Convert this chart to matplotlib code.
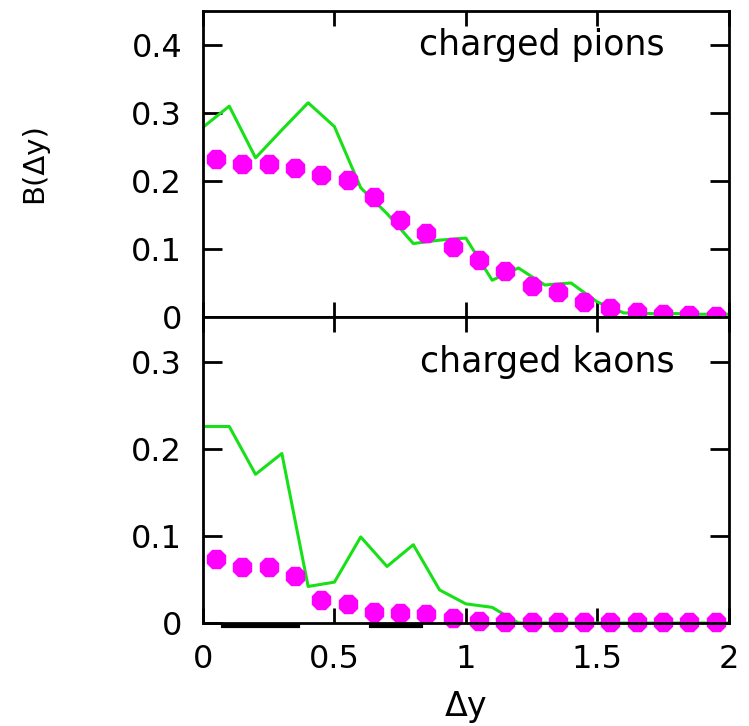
import numpy as np
import matplotlib
matplotlib.use("Agg")
import matplotlib.pyplot as plt
from matplotlib.ticker import FuncFormatter

# model curve (green), sampled every 0.1 in dy
dy_line = [0.0, 0.1, 0.2, 0.3, 0.4, 0.5, 0.6, 0.7, 0.8, 0.9, 1.0,
           1.1, 1.2, 1.3, 1.4, 1.5, 1.6, 1.7, 1.8, 1.9, 2.0]
pions_line = [0.279, 0.310, 0.234, 0.275, 0.315, 0.280, 0.190, 0.152, 0.108, 0.113, 0.116,
              0.054, 0.072, 0.047, 0.050, 0.022, 0.006, 0.005, 0.005, 0.004, 0.004]
kaons_line = [0.226, 0.226, 0.171, 0.195, 0.042, 0.047, 0.099, 0.065, 0.090, 0.038, 0.022,
              0.018, 0.0, 0.0, 0.0, 0.0, 0.0, 0.0, 0.0, 0.0, 0.0]

# data points (magenta), bin centres
dy_pts = [0.05, 0.15, 0.25, 0.35, 0.45, 0.55, 0.65, 0.75, 0.85, 0.95,
          1.05, 1.15, 1.25, 1.35, 1.45, 1.55, 1.65, 1.75, 1.85, 1.95]
pions_pts = [0.233, 0.225, 0.225, 0.219, 0.209, 0.202, 0.176, 0.143, 0.124, 0.103,
             0.084, 0.067, 0.045, 0.036, 0.022, 0.013, 0.008, 0.005, 0.003, 0.002]
kaons_pts = [0.074, 0.064, 0.064, 0.054, 0.027, 0.022, 0.013, 0.011, 0.010, 0.006,
             0.002, 0.001, 0.001, 0.001, 0.001, 0.001, 0.001, 0.001, 0.001, 0.001]

# black segments just under the kaon axis
black_x = [0.075, 0.36, np.nan, 0.64, 0.83]
black_y = [-0.003, -0.003, np.nan, -0.003, -0.003]

green = "#18e018"
magenta = "#ff00ff"
fs = 23

fig = plt.figure(figsize=(7.49, 7.26), dpi=100)
ax1 = fig.add_axes([0.271, 0.5634, 0.702, 0.4215])
ax2 = fig.add_axes([0.271, 0.1419, 0.702, 0.4215])

def style(ax, ymax, yticks):
    ax.set_xlim(0, 2)
    ax.set_ylim(0, ymax)
    ax.set_xticks([0, 0.5, 1, 1.5, 2])
    ax.set_yticks(yticks)
    ax.tick_params(direction="in", top=True, right=True, width=2,
                   labelsize=fs, pad=15)
    ax.tick_params(axis="y", length=13.5)
    ax.tick_params(axis="x", length=10.5)
    ax.yaxis.set_major_formatter(FuncFormatter(lambda v, p: "0" if v == 0 else f"{v:.1f}"))
    ax.xaxis.set_major_formatter(FuncFormatter(lambda v, p: f"{v:g}"))
    for s in ax.spines.values():
        s.set_linewidth(2)

ax1.plot(dy_line, pions_line, color=green, lw=2.2)
ax1.plot(dy_pts, pions_pts, ls="none", marker="8", ms=14, color=magenta, clip_on=False)
ax1.text(1.29, 0.385, "charged pions", fontsize=25, ha="center", va="baseline")
style(ax1, 0.45, [0, 0.1, 0.2, 0.3, 0.4])
ax1.tick_params(labelbottom=False)

ax2.plot(dy_line, kaons_line, color=green, lw=2.2)
ax2.plot(dy_pts, kaons_pts, ls="none", marker="8", ms=14, color=magenta, clip_on=False)
ax2.plot(black_x, black_y, color="black", lw=3, clip_on=False)
ax2.text(1.31, 0.289, "charged kaons", fontsize=25, ha="center", va="baseline")
style(ax2, 0.352, [0, 0.1, 0.2, 0.3])
ax2.set_xlabel("\u0394y", fontsize=24, labelpad=11)

fig.text(0.045, 0.775, "B(\u0394y)", fontsize=21, rotation=90, ha="center", va="center")

fig.savefig("out.png", dpi=100)
